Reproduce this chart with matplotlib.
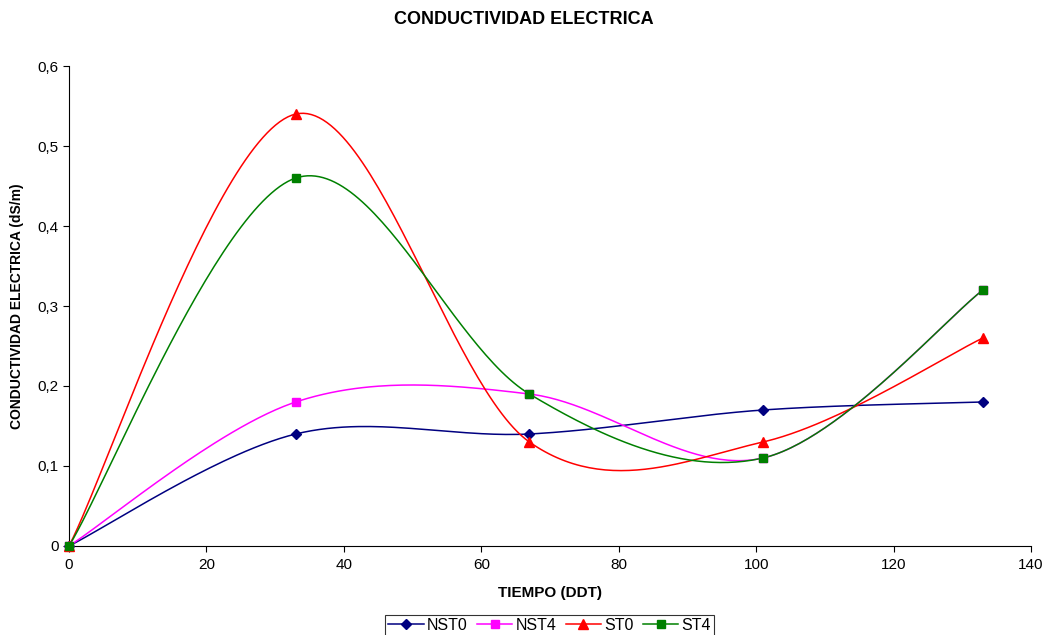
import numpy as np
import matplotlib.pyplot as plt
from matplotlib.ticker import FuncFormatter

plt.rcParams["font.family"] = ["Liberation Sans", "DejaVu Sans"]

dias = [0, 33, 67, 101, 133]
nst0 = [0, 0.14, 0.14, 0.17, 0.18]
nst4 = [0, 0.18, 0.19, 0.11, 0.32]
st0 = [0, 0.54, 0.13, 0.13, 0.26]
st4 = [0, 0.46, 0.19, 0.11, 0.32]

series = [
    ("NST0", nst0, "#000080", "D", 5),
    ("NST4", nst4, "#FF00FF", "s", 6),
    ("ST0", st0, "#FF0000", "^", 7),
    ("ST4", st4, "#008000", "s", 6),
]


def smooth(x, y, n=60):
    # Catmull-Rom curve through the points, as a cubic Bezier per segment
    p = np.column_stack([x, y]).astype(float)
    p = np.vstack([p[0], p, p[-1]])
    t = np.linspace(0, 1, n)[:, None]
    out = []
    for i in range(1, len(p) - 2):
        b0 = p[i]
        b1 = p[i] + (p[i + 1] - p[i - 1]) / 6
        b2 = p[i + 1] - (p[i + 2] - p[i]) / 6
        b3 = p[i + 1]
        seg = ((1 - t) ** 3 * b0 + 3 * (1 - t) ** 2 * t * b1
               + 3 * (1 - t) * t ** 2 * b2 + t ** 3 * b3)
        out.append(seg if i == 1 else seg[1:])
    c = np.vstack(out)
    return c[:, 0], c[:, 1]


fig = plt.figure(figsize=(10.47, 6.35), dpi=100)
ax = fig.add_axes([0.0659, 0.1402, 0.9188, 0.7558])

handles = []
for name, vals, color, marker, ms in series:
    xs = dias[:len(vals)]
    sx, sy = smooth(xs, vals)
    ax.plot(sx, sy, color=color, lw=1.1, clip_on=False)
    ax.plot(xs, vals, ls="none", marker=marker, color=color, ms=ms, clip_on=False, zorder=5)
    h, = ax.plot([], [], color=color, lw=1.1, marker=marker, ms=ms, label=name)
    handles.append(h)

ax.set_xlim(0, 140)
ax.set_ylim(0, 0.6)
ax.set_xticks(range(0, 141, 20))
ax.set_yticks(np.arange(0, 0.61, 0.1))
ax.yaxis.set_major_formatter(FuncFormatter(lambda v, _: "0" if abs(v) < 1e-9 else f"{v:.1f}".replace(".", ",")))
ax.tick_params(direction="out", length=4, labelsize=11, width=0.8)
ax.tick_params(axis="x", pad=5)
for side in ("top", "right"):
    ax.spines[side].set_visible(False)
for side in ("left", "bottom"):
    ax.spines[side].set_linewidth(0.8)

ax.set_xlabel("TIEMPO (DDT)", fontsize=11, fontweight="bold", labelpad=10)
ax.set_ylabel("CONDUCTIVIDAD ELECTRICA (dS/m)", fontsize=10, fontweight="bold", labelpad=10)
fig.suptitle("CONDUCTIVIDAD ELECTRICA", fontsize=13, fontweight="bold", y=0.982)

leg = fig.legend(handles=handles, loc="lower center", bbox_to_anchor=(0.525, -0.014), ncol=4,
                 frameon=True, fancybox=False, edgecolor="black", fontsize=11.5,
                 handlelength=2.2, handletextpad=0.2, columnspacing=0.6, borderpad=0.2)
leg.get_frame().set_linewidth(0.8)

fig.savefig("out.png", dpi=100)
